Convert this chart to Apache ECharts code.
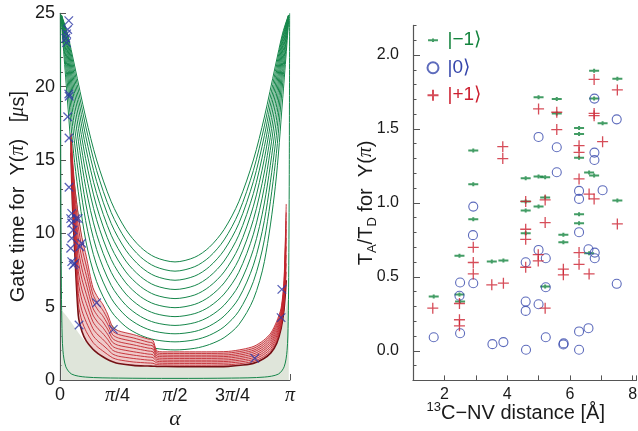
<!DOCTYPE html>
<html><head><meta charset="utf-8">
<script src="https://cdn.jsdelivr.net/npm/echarts@6/dist/echarts.min.js"></script>
<style>html,body{margin:0;padding:0;background:#fff}#c{width:638px;height:431px}</style>
</head><body><div id="c"></div>
<script>
// ---------- Left panel data ----------
const alphaTickLabels = ['0', '{p|π}/4', '{p|π}/2', '3{p|π}/4', '{p|π}'];
const gateTicks = [0, 5, 10, 15, 20, 25];

const greenAlpha = [0.02,0.1,0.2,0.35,0.5,0.7,0.9,1.1,1.3,1.5708,1.8416,2.0416,2.2416,2.4416,2.6416,2.7916,2.9416,3.0416,3.1216];
const green1  = [24.89,23.65,21.41,17.93,15.0,12.15,10.26,9.06,8.37,8.05,8.37,9.06,10.26,12.15,15.0,17.93,21.41,23.65,24.89];
const green2  = [24.87,23.49,21.03,17.32,14.29,11.41,9.55,8.39,7.73,7.42,7.73,8.39,9.55,11.41,14.29,17.32,21.03,23.49,24.87];
const green3  = [24.85,23.3,20.6,16.65,13.54,10.66,8.85,7.73,7.09,6.8,7.09,7.73,8.85,10.66,13.54,16.65,20.6,23.3,24.85];
const green4  = [24.83,23.08,20.11,15.91,12.72,9.87,8.11,7.05,6.44,6.17,6.44,7.05,8.11,9.87,12.72,15.91,20.11,23.08,24.83];
const green5  = [24.81,22.82,19.54,15.09,11.85,9.05,7.37,6.37,5.8,5.55,5.8,6.37,7.37,9.05,11.85,15.09,19.54,22.82,24.81];
const green6  = [24.78,22.51,18.87,14.18,10.93,8.21,6.62,5.68,5.16,4.93,5.16,5.68,6.62,8.21,10.93,14.18,18.87,22.51,24.78];
const green7  = [24.74,22.12,18.1,13.18,9.94,7.34,5.86,5.0,4.53,4.32,4.53,5.0,5.86,7.34,9.94,13.18,18.1,22.12,24.74];
const green8  = [24.69,21.63,17.17,12.07,8.9,6.45,5.1,4.33,3.91,3.72,3.91,4.33,5.1,6.45,8.9,12.07,17.17,21.63,24.69];
const green9  = [24.62,21.03,16.1,10.87,7.83,5.57,4.36,3.68,3.31,3.15,3.31,3.68,4.36,5.57,7.83,10.87,16.1,21.03,24.62];
const green10 = [24.54,20.26,14.82,9.56,6.71,4.69,3.63,3.05,2.74,2.6,2.74,3.05,3.63,4.69,6.71,9.56,14.82,20.26,24.54];
const green11 = [24.4,19.17,13.21,8.07,5.5,3.77,2.89,2.42,2.16,2.05,2.16,2.42,2.89,3.77,5.5,8.07,13.21,19.17,24.4];

const greenBottomAlpha = [0.005,0.01,0.018,0.025,0.04,0.08,0.16,0.35,0.8,1.5708,2.3416,2.7916,2.9816,3.0616,3.1016,3.1166,3.1236,3.1316,3.1366];
const greenBottom = [25,14,7,4,2,0.9,0.4,0.2,0.13,0.11,0.13,0.2,0.4,0.9,2,4,7,14,25];

const grayAlpha = [0.02,0.1,0.2,0.3,0.45,0.6,0.8,1.0,1.3,1.7,2.2,2.5,2.7,2.85,2.95,3.02,3.07,3.11,3.125];
const grayTop   = [4.77,4.3,3.6,2.9,2.1,1.55,1.15,0.98,0.9,0.87,0.88,0.98,1.2,1.6,2.3,3.3,4.5,5.5,5.8];

const redAlpha = [0.15,0.17,0.2,0.25,0.3,0.36,0.45,0.52,0.58,0.65,0.72,0.8,1.0,1.2,1.27,1.32,1.4,1.7,2.0,2.3,2.5,2.65,2.78,2.88,2.96,3.02,3.06,3.09];
const red0 = [15.5,12.0,8.9,4.4,3.3,2.65,2.1,1.8,1.6,1.4,1.25,1.13,1.0,0.95,0.94,0.93,0.92,0.9,0.9,0.93,1.02,1.15,1.45,1.85,2.5,3.5,4.8,6.8];
const red1 = [15.64,12.36,9.39,5.16,4.01,3.29,2.57,2.22,2.0,1.74,1.51,1.38,1.23,1.16,1.14,1.05,1.03,1.01,1.01,1.04,1.14,1.28,1.59,2.0,2.67,3.66,5.02,7.38];
const red2 = [15.79,12.71,9.88,5.91,4.72,3.93,3.03,2.64,2.4,2.09,1.77,1.62,1.47,1.36,1.33,1.17,1.14,1.13,1.13,1.16,1.26,1.41,1.73,2.15,2.83,3.81,5.24,7.95];
const red3 = [15.93,13.07,10.37,6.67,5.43,4.57,3.5,3.07,2.8,2.43,2.03,1.87,1.7,1.57,1.53,1.29,1.25,1.24,1.24,1.27,1.38,1.53,1.87,2.3,3.0,3.97,5.47,8.53];
const red4 = [16.08,13.42,10.86,7.42,6.14,5.21,3.97,3.49,3.2,2.78,2.29,2.12,1.93,1.77,1.72,1.41,1.36,1.35,1.35,1.38,1.5,1.66,2.01,2.45,3.17,4.12,5.69,9.11];
const red5 = [16.22,13.78,11.34,8.18,6.86,5.84,4.43,3.91,3.6,3.12,2.56,2.36,2.17,1.98,1.92,1.52,1.48,1.47,1.47,1.5,1.62,1.79,2.14,2.6,3.33,4.28,5.91,9.69];
const red6 = [16.37,14.13,11.83,8.93,7.57,6.48,4.9,4.33,4.0,3.47,2.82,2.61,2.4,2.18,2.11,1.64,1.59,1.58,1.58,1.61,1.74,1.92,2.28,2.75,3.5,4.43,6.13,10.27];
const red7 = [16.51,14.49,12.32,9.69,8.28,7.12,5.37,4.76,4.4,3.81,3.08,2.86,2.63,2.39,2.31,1.76,1.7,1.69,1.69,1.72,1.86,2.04,2.42,2.9,3.67,4.59,6.36,10.84];
const red8 = [16.66,14.84,12.81,10.44,8.99,7.76,5.83,5.18,4.8,4.16,3.34,3.1,2.87,2.59,2.5,1.88,1.81,1.81,1.81,1.84,1.98,2.17,2.56,3.05,3.83,4.74,6.58,11.42];
const red9 = [16.8,15.2,13.3,11.2,9.7,8.4,6.3,5.6,5.2,4.5,3.6,3.35,3.1,2.8,2.7,2.0,1.92,1.92,1.92,1.95,2.1,2.3,2.7,3.2,4.0,4.9,6.8,12.0];

const crossAlpha = [0.12,0.105,0.09,0.08,0.09,0.12,0.125,0.105,0.123,0.123,0.16,0.146,0.22,0.16,0.25,0.18,0.16,0.146,0.296,0.273,0.16,0.18,0.2,0.26,0.5,0.728,2.66,3.03,3.02];
const crossTime  = [24.5,23.9,23.6,23.3,23.0,19.5,19.35,17.95,16.5,13.14,11.36,11.0,11.0,10.7,11.0,10.23,9.66,8.98,9.32,9.09,8.07,7.84,7.95,3.75,5.27,3.45,1.48,6.18,4.25];

// ---------- Right panel data ----------
const ratioTicks = [0, 0.5, 1.0, 1.5, 2.0];
const distTicks = [2, 4, 6, 8];
const minus1Dist  = [1.66,2.48,2.48,2.5,2.92,2.92,2.92,3.51,3.88,4.59,4.59,4.59,4.59,5.0,5.0,5.0,5.21,5.21,5.21,5.58,5.58,5.79,5.79,6.29,6.29,6.29,6.29,6.29,6.61,6.61,6.77,6.77,6.77,7.04,7.51,7.51];
const minus1Ratio = [0.367,0.642,0.38,0.333,1.354,1.126,0.89,0.604,0.61,1.167,1.009,0.948,0.795,1.714,1.178,0.975,1.173,1.036,0.435,1.703,1.604,0.784,0.734,1.507,1.466,1.306,0.923,0.863,1.205,0.66,1.894,1.705,1.185,1.538,1.84,1.016];
const zeroDist  = [1.66,2.5,2.48,2.5,2.92,2.91,2.92,3.53,3.88,4.59,4.59,4.59,4.6,5.0,5.0,5.0,5.23,5.23,5.23,5.58,5.58,5.79,5.8,6.29,6.29,6.29,6.29,6.29,6.59,6.59,6.78,6.78,6.78,6.79,6.79,7.04,7.49,7.49];
const zeroRatio = [0.092,0.462,0.372,0.119,0.975,0.782,0.457,0.045,0.059,0.599,0.333,0.27,0.007,1.446,0.682,0.315,0.626,0.43,0.092,1.376,1.207,0.043,0.05,1.081,1.027,0.802,0.131,0.007,0.687,0.153,1.705,1.34,1.29,0.664,0.626,1.086,1.565,0.453];
const plus1Dist  = [1.63,2.48,2.48,2.48,2.92,2.92,2.92,3.51,3.88,3.86,3.86,4.59,4.59,4.59,4.59,5.0,4.99,4.99,5.21,5.21,5.21,5.58,5.58,5.79,5.79,6.29,6.29,6.29,6.29,6.29,6.61,6.61,6.77,6.77,6.77,6.77,7.04,7.51,7.51];
const plus1Ratio = [0.288,0.32,0.21,0.169,0.70,0.597,0.52,0.446,0.457,1.38,1.30,1.01,0.822,0.754,0.565,1.635,0.65,0.608,1.02,0.867,0.288,1.613,1.496,0.552,0.514,1.387,1.342,1.162,0.664,0.585,1.06,0.52,1.835,1.605,1.59,1.027,1.414,1.764,0.858];

// ---------- build ----------
const pairs = (xs, ys) => xs.map((x, i) => [x, ys[i]]);
const PI = Math.PI;
const F = "'Liberation Sans', Arial, Helvetica, sans-serif";
const SERIF = "'Liberation Serif', 'DejaVu Serif', serif";
const GREEN = '#15864a', RED = '#c2262e', MAROON = '#741014', BLUE = '#3546ab';
const piRich = { p: { fontFamily: SERIF, fontStyle: 'italic', fontSize: 20 } };

const greenCurves = [green1,green2,green3,green4,green5,green6,green7,green8,green9,green10,green11];
const redCurves = [red0,red1,red2,red3,red4,red5,red6,red7,red8,red9];
const L = { xAxisIndex: 0, yAxisIndex: 0, type: 'line', symbol: 'none', silent: true };

const series = [];
greenCurves.forEach(c => series.push(Object.assign({}, L, { data: pairs(greenAlpha, c),
  smooth: 0.3, lineStyle: { color: GREEN, width: 1 }, z: 2 })));
// red band background: pink under the top red curve, white under the lowest one
series.push(Object.assign({}, L, { data: pairs(redAlpha, red9), smooth: 0.25, lineStyle: { width: 0 },
  areaStyle: { color: '#efcaca', opacity: 1 }, z: 3 }));
series.push(Object.assign({}, L, { data: pairs(redAlpha, red0), smooth: 0.25, lineStyle: { width: 0 },
  areaStyle: { color: '#ffffff', opacity: 1 }, z: 3 }));
series.push(Object.assign({}, L, { data: pairs(grayAlpha, grayTop), smooth: 0.3, lineStyle: { width: 0 },
  areaStyle: { color: '#dfe5da', opacity: 1 }, z: 3 }));
series.push(Object.assign({}, L, { data: pairs(greenBottomAlpha, greenBottom),
  smooth: 0.3, lineStyle: { color: GREEN, width: 1 }, z: 3 }));
redCurves.forEach((c, k) => series.push(Object.assign({}, L, { data: pairs(redAlpha, c), smooth: 0.25,
  lineStyle: { color: k === 0 ? MAROON : RED, width: k === 0 ? 1.6 : 0.9 }, z: 4 })));
series.push({ type: 'scatter', xAxisIndex: 0, yAxisIndex: 0, data: pairs(crossAlpha, crossTime),
  symbol: 'path://M0,0L10,10M10,0L0,10', symbolSize: 8.5,
  itemStyle: { color: 'none', borderColor: '#2e3aa6', borderWidth: 1.3 }, z: 6, silent: true });

// right panel
const dashPath = 'path://M0,4.2H3.6V3.4H5.4V4.2H9V5.8H5.4V6.6H3.6V5.8H0Z';
const plusPath = 'path://M5,0V10M0,5H10';
series.push({ name: '|−1⟩', type: 'scatter', xAxisIndex: 1, yAxisIndex: 1, data: pairs(minus1Dist, minus1Ratio),
  symbol: dashPath, symbolSize: [10, 4], itemStyle: { color: '#14843e' }, z: 5 });
series.push({ name: '|0⟩', type: 'scatter', xAxisIndex: 1, yAxisIndex: 1, data: pairs(zeroDist, zeroRatio),
  symbol: 'circle', symbolSize: 9, itemStyle: { color: 'rgba(0,0,0,0)', borderColor: BLUE, borderWidth: 1.1 }, z: 5 });
series.push({ name: '|+1⟩', type: 'scatter', xAxisIndex: 1, yAxisIndex: 1, data: pairs(plus1Dist, plus1Ratio),
  symbol: plusPath, symbolSize: 11, itemStyle: { color: 'none', borderColor: '#cc2030', borderWidth: 1.3 }, z: 5 });

const axisLineStyle = { color: '#555', width: 1.2 };
const option = {
  animation: false,
  textStyle: { fontFamily: F },
  grid: [
    { left: 60, top: 13.3, width: 230, height: 366.7, outerBoundsMode: 'none', containLabel: false },
    { left: 413, top: 25.4, width: 223.5, height: 355, outerBoundsMode: 'none', containLabel: false }
  ],
  legend: {
    orient: 'vertical', left: 420, top: 25, itemWidth: 11, itemHeight: 11, itemGap: 7, selectedMode: false,
    textStyle: { fontSize: 19, lineHeight: 20.5, fontFamily: F, padding: [0, 0, 0, 4] },
    data: [
      { name: '|−1⟩', icon: 'path://M0,0M0,4.2H3.6V3.4H5.4V4.2H9V5.8H5.4V6.6H3.6V5.8H0ZM9,10', textStyle: { color: '#14843e' } },
      { name: '|0⟩', icon: 'circle', textStyle: { color: BLUE } },
      { name: '|+1⟩', icon: plusPath, textStyle: { color: '#cc2030' } }
    ]
  },
  xAxis: [
    { gridIndex: 0, type: 'value', min: 0, max: PI, interval: PI / 4,
      axisLine: { show: true, onZero: false, lineStyle: axisLineStyle },
      axisTick: { inside: true, length: 6, lineStyle: { color: '#555' } },
      minorTick: { show: true, splitNumber: 2, length: 3, lineStyle: { color: '#555' } },
      splitLine: { show: false },
      axisLabel: { margin: 6, fontSize: 18, color: '#1a1a1a', fontFamily: F, rich: piRich,
        formatter: v => { const k = Math.round(v / (PI / 4)); return Math.abs(v - k * PI / 4) < 1e-6 ? alphaTickLabels[k] : ''; } },
      name: 'α', nameLocation: 'middle', nameGap: 28, nameMoveOverlap: false,
      nameTextStyle: { fontFamily: SERIF, fontStyle: 'italic', fontSize: 22, color: '#1a1a1a' } },
    { gridIndex: 1, type: 'value', min: 1, max: 8.12, interval: 1,
      axisLine: { show: true, onZero: false, lineStyle: axisLineStyle },
      axisTick: { inside: true, length: 5, lineStyle: { color: '#555' } },
      splitLine: { show: false },
      axisLabel: { margin: 6, fontSize: 16, color: '#1a1a1a', fontFamily: F, interval: 0,
        formatter: v => { const k = Math.round(v); return (Math.abs(v - k) < 1e-6 && distTicks.indexOf(k) >= 0) ? String(k) : ''; } },
      name: '{s|13}C−NV distance [Å]', nameLocation: 'middle', nameGap: 21, nameMoveOverlap: false,
      nameTextStyle: { fontSize: 20, color: '#1a1a1a', fontFamily: F, lineHeight: 24, padding: [0, 18, 0, 0],
        rich: { s: { fontSize: 13, verticalAlign: 'top', lineHeight: 14, fontFamily: F, color: '#1a1a1a' } } } }
  ],
  yAxis: [
    { gridIndex: 0, type: 'value', min: 0, max: 25, interval: 5,
      axisLine: { show: true, onZero: false, lineStyle: axisLineStyle },
      axisTick: { inside: true, length: 6, lineStyle: { color: '#555' } },
      minorTick: { show: true, splitNumber: 5, length: 3, lineStyle: { color: '#555' } },
      splitLine: { show: false },
      axisLabel: { margin: 5, fontSize: 18, color: '#1a1a1a', fontFamily: F,
        formatter: v => gateTicks.indexOf(Math.round(v)) >= 0 && Math.abs(v - Math.round(v)) < 1e-6 ? String(Math.round(v)) : '' },
      name: 'Gate time for  Y({p|π})   [{p|μ}s]', nameLocation: 'middle', nameGap: 32, nameRotate: 90,
      nameTextStyle: { fontSize: 20, color: '#1a1a1a', fontFamily: F, rich: piRich } },
    { gridIndex: 1, type: 'value', min: -0.2, max: 2.2, interval: 0.1,
      axisLine: { show: true, onZero: false, lineStyle: axisLineStyle },
      axisTick: { inside: true, length: 3.5, interval: 0, lineStyle: { color: '#555' } },
      splitLine: { show: false },
      axisLabel: { margin: 14, fontSize: 16, color: '#1a1a1a', fontFamily: F, interval: 0,
        formatter: v => { const k = Math.round(v * 2) / 2; return (Math.abs(v - k) < 1e-6 && ratioTicks.indexOf(k) >= 0) ? k.toFixed(1) : ''; } },
      name: 'T{s|A}/T{s|D} for  Y({p|π})', nameLocation: 'middle', nameGap: 34, nameRotate: 90, nameMoveOverlap: false,
      nameTextStyle: { fontSize: 20, color: '#1a1a1a', fontFamily: F, lineHeight: 26,
        rich: { s: { fontSize: 13, verticalAlign: 'bottom', lineHeight: 16, fontFamily: F, color: '#1a1a1a' },
                p: { fontFamily: SERIF, fontStyle: 'italic', fontSize: 20 } } } },
    { gridIndex: 1, type: 'value', position: 'left', min: -0.2, max: 2.2, interval: 0.1, show: true,
      axisLine: { show: false }, axisLabel: { show: false }, splitLine: { show: false },
      axisTick: { show: true, inside: true, length: 7, customValues: ratioTicks, lineStyle: { color: '#555' } } }
  ],
  series: series
};
const chart = echarts.init(document.getElementById('c'));
chart.setOption(option);
</script>
</body></html>
